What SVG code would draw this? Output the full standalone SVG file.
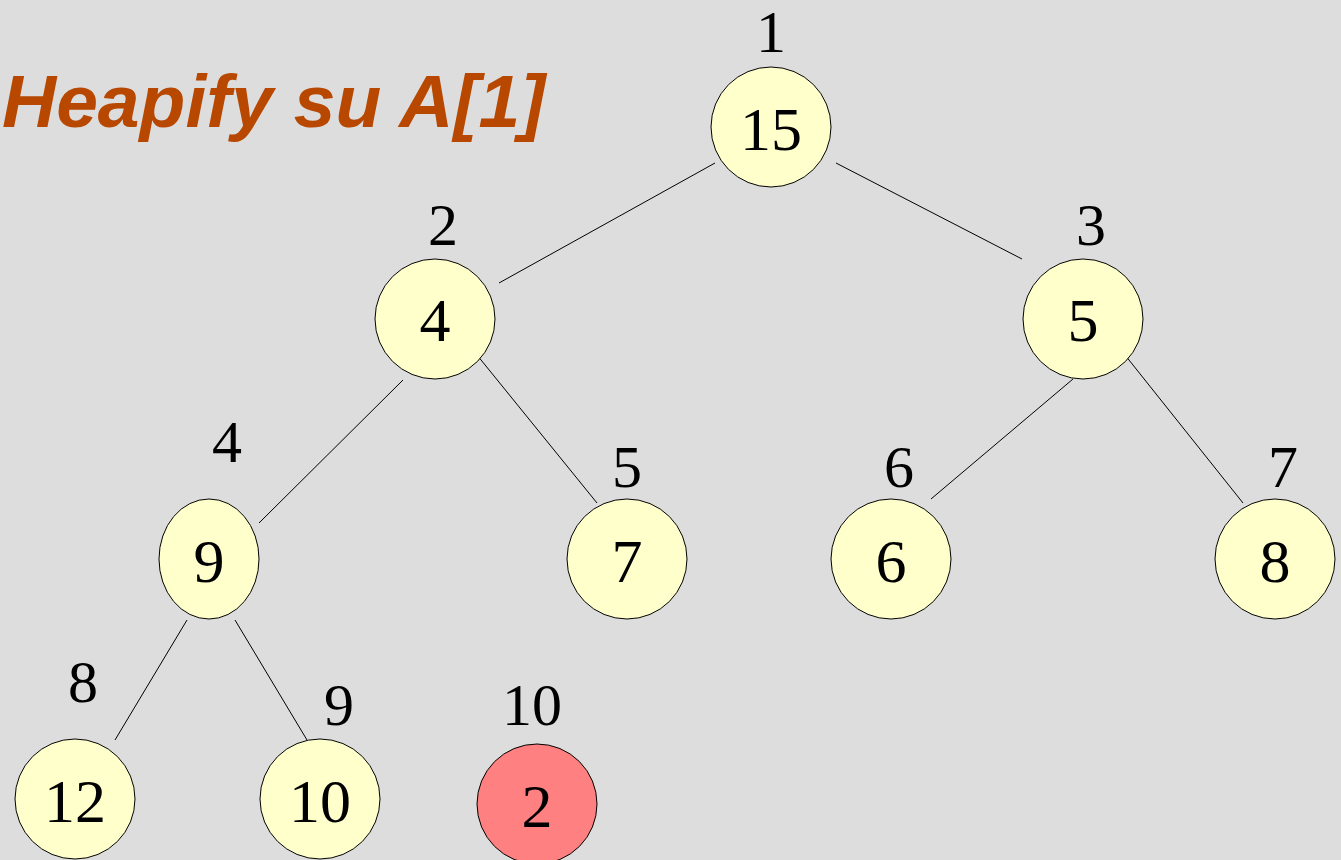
<svg xmlns="http://www.w3.org/2000/svg" width="1341" height="860" viewBox="0 0 1341 860">
<style>
.n{fill:#ffffcc;stroke:#000;stroke-width:1}
.r{fill:#ff8080;stroke:#000;stroke-width:1}
.v{font-family:"Liberation Serif","Times New Roman",serif;font-size:62px;fill:#000;text-anchor:middle}
.i{font-family:"Liberation Serif","Times New Roman",serif;font-size:60px;fill:#000;text-anchor:middle}
.e{stroke:#000;stroke-width:1;fill:none}
</style>
<rect width="1341" height="860" fill="#dddddd"/>
<text x="2" y="127" font-family="'Liberation Sans',Arial,sans-serif" font-size="75" font-weight="bold" font-style="italic" fill="#b84700">Heapify su A[1]</text>
<g id="connectors">
<line class="e" x1="715" y1="163" x2="499" y2="283"/>
<line class="e" x1="836" y1="163" x2="1022" y2="259"/>
<line class="e" x1="403" y1="380" x2="259" y2="523"/>
<line class="e" x1="477" y1="355" x2="597" y2="503"/>
<line class="e" x1="1073" y1="379" x2="931" y2="499"/>
<line class="e" x1="1125" y1="355" x2="1243" y2="503"/>
<line class="e" x1="187" y1="620" x2="115" y2="740"/>
<line class="e" x1="235" y1="620" x2="307" y2="740"/>
</g>
<g id="node1">
<text class="i" x="771" y="52">1</text>
<circle class="n" cx="771" cy="127" r="60"/>
<text class="v" x="771" y="150">15</text>
</g>
<g id="node2">
<text class="i" x="443" y="245">2</text>
<circle class="n" cx="435" cy="319" r="60"/>
<text class="v" x="435" y="341">4</text>
</g>
<g id="node3">
<text class="i" x="1091" y="245">3</text>
<circle class="n" cx="1083" cy="319" r="60"/>
<text class="v" x="1083" y="341">5</text>
</g>
<g id="node4">
<text class="i" x="227" y="462">4</text>
<ellipse class="n" cx="209" cy="559" rx="50" ry="60"/>
<text class="v" x="209" y="582">9</text>
</g>
<g id="node5">
<text class="i" x="627" y="487">5</text>
<circle class="n" cx="627" cy="559" r="60"/>
<text class="v" x="627" y="582">7</text>
</g>
<g id="node6">
<text class="i" x="899" y="487">6</text>
<circle class="n" cx="891" cy="559" r="60"/>
<text class="v" x="891" y="582">6</text>
</g>
<g id="node7">
<text class="i" x="1283" y="487">7</text>
<circle class="n" cx="1275" cy="559" r="60"/>
<text class="v" x="1275" y="582">8</text>
</g>
<g id="node8">
<text class="i" x="83" y="702">8</text>
<circle class="n" cx="75" cy="799" r="60"/>
<text class="v" x="75" y="822">12</text>
</g>
<g id="node9">
<text class="i" x="339" y="725">9</text>
<circle class="n" cx="320" cy="799" r="60"/>
<text class="v" x="320" y="822">10</text>
</g>
<g id="node10">
<text class="i" x="532" y="725">10</text>
<circle class="r" cx="537" cy="804" r="60"/>
<text class="v" x="537" y="827">2</text>
</g>
</svg>
